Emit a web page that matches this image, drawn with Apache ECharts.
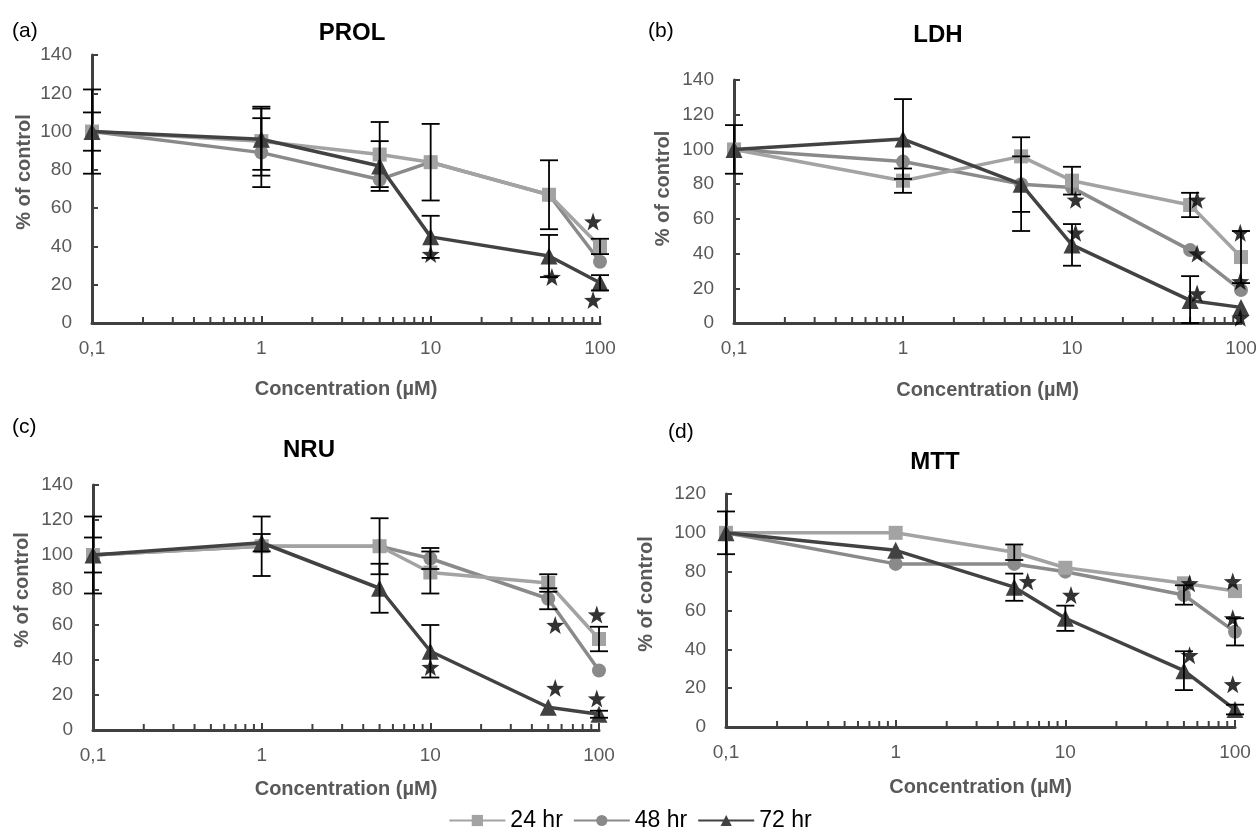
<!DOCTYPE html>
<html>
<head>
<meta charset="utf-8">
<title>PROL / LDH / NRU / MTT</title>
<script src="https://cdn.jsdelivr.net/npm/echarts@6/dist/echarts.min.js"></script>
<style>
  html, body { margin: 0; padding: 0; background: #fff; }
  #chart { width: 1260px; height: 827px; }
</style>
</head>
<body>
<div id="chart"></div>
<script>
// concentrations (µM) and minor ticks of the log axis
const conc = [0.1, 1, 5, 10, 50, 100]
const minorTicks = [0.2, 0.3, 0.4, 0.5, 0.6, 0.7, 0.8, 0.9, 2, 3, 4, 5, 6, 7, 8, 9, 20, 30, 40, 50, 60, 70, 80, 90]
const seriesNames = ['24 hr', '48 hr', '72 hr']

// (a) PROL
const prol24 = [100, 95, 88, 84, 67, 40]
const prol48 = [100, 89, 75, 84, 67, 32]
const prol72 = [100, 96, 82, 45, 35, 21]
const prolErr24 = [22, 18, 17, 20, 18, 4]
const prolErr48 = [null, 18, null, null, null, null]
const prolErr72 = [10, 16, 13, 11, 11, 4]
const prolStars = [[10, 36], [52, 24], [91, 53], [91, 12]]

// (b) LDH
const ldh24 = [100, 82, 96, 82, 68, 38]
const ldh48 = [100, 93, 80, 78, 42, 19]
const ldh72 = [100, 106, 80, 45, 13, 9]
const ldhErr24 = [14, 7, null, 8, 7, 15]
const ldhErr48 = [null, null, 27, null, null, null]
const ldhErr72 = [null, 23, 16, 12, 14, null]
const ldhStars = [[10.5, 71], [10.5, 52], [55, 71], [55, 40], [55, 17], [99, 52], [99, 24], [99, 3]]

// (c) NRU
const nru24 = [100, 105, 105, 90, 84, 52]
const nru48 = [100, 105, 105, 98, 75, 34]
const nru72 = [100, 107, 81, 45, 13, 9]
const nruErr24 = [22, 17, 16, 12, 5, 7]
const nruErr48 = [null, null, null, 6, 6, null]
const nruErr72 = [10, 5, 14, 15, null, 2]
const nruStars = [[10, 36], [55, 60], [55, 24], [97, 66], [97, 18]]

// (d) MTT
const mtt24 = [100, 100, 90, 82, 74, 70]
const mtt48 = [100, 84, 84, 80, 68, 49]
const mtt72 = [100, 91, 72, 56, 29, 9]
const mttErr24 = [11, null, 4, null, null, null]
const mttErr48 = [null, null, null, null, 5, 7]
const mttErr72 = [null, null, 7, 6.5, 10, 2.5]
const mttStars = [[6, 75], [10.8, 68], [54, 74], [54, 37], [97, 75], [97, 56], [97, 22]]

const colors = ['#a3a3a3', '#8a8a8a', '#424242']
const symbols = ['rect', 'circle', 'triangle']
const symbolSizes = [14, 14, 17]
const zOrder = [3, 2, 4]
const axisColor = '#404040'
const labelColor = '#595959'
const starPath = 'path://M0,-10L2.35,-3.24L9.51,-3.09L3.8,1.24L5.88,8.09L0,4L-5.88,8.09L-3.8,1.24L-9.51,-3.09L-2.35,-3.24Z'

const panels = [
  { tag: '(a)', title: 'PROL', values: [prol24, prol48, prol72], errs: [prolErr24, prolErr48, prolErr72], stars: prolStars,
    grid: { left: 92, top: 55, width: 508, height: 268 }, yMax: 140, xNameGap: 56, yNameGap: 58, yShift: 34,
    titlePos: [352, 33], tagPos: [12, 31] },
  { tag: '(b)', title: 'LDH', values: [ldh24, ldh48, ldh72], errs: [ldhErr24, ldhErr48, ldhErr72], stars: ldhStars,
    grid: { left: 734, top: 80, width: 507, height: 243 }, yMax: 140, xNameGap: 57, yNameGap: 61, yShift: 26,
    titlePos: [938, 35], tagPos: [648, 31] },
  { tag: '(c)', title: 'NRU', values: [nru24, nru48, nru72], errs: [nruErr24, nruErr48, nruErr72], stars: nruStars,
    grid: { left: 93, top: 485, width: 506, height: 245 }, yMax: 140, xNameGap: 49, yNameGap: 61, yShift: 35,
    titlePos: [309, 450], tagPos: [12, 427] },
  { tag: '(d)', title: 'MTT', values: [mtt24, mtt48, mtt72], errs: [mttErr24, mttErr48, mttErr72], stars: mttStars,
    grid: { left: 726, top: 494, width: 509, height: 233 }, yMax: 120, xNameGap: 50, yNameGap: 70, yShift: 33,
    titlePos: [935, 462], tagPos: [668, 432] }
]

function renderErrorBar(params, api) {
  const x = api.value(0)
  const y = api.value(1)
  const e = api.value(2)
  const hi = api.coord([x, y + e])
  const lo = api.coord([x, Math.max(y - e, 0)])
  const w = 9
  const style = { stroke: '#000', lineWidth: 1.8 }
  return {
    type: 'group',
    children: [
      { type: 'line', shape: { x1: hi[0], y1: hi[1], x2: lo[0], y2: lo[1] }, style },
      { type: 'line', shape: { x1: hi[0] - w, y1: hi[1], x2: hi[0] + w, y2: hi[1] }, style },
      { type: 'line', shape: { x1: lo[0] - w, y1: lo[1], x2: lo[0] + w, y2: lo[1] }, style }
    ]
  }
}

function renderMinorTick(params, api) {
  const p = api.coord([api.value(0), 0])
  return {
    type: 'line',
    shape: { x1: p[0], y1: p[1], x2: p[0], y2: p[1] - 6 },
    style: { stroke: axisColor, lineWidth: 2 }
  }
}

const grid = []
const xAxis = []
const yAxis = []
const series = []
const graphic = []

panels.forEach((p, i) => {
  grid.push(p.grid)
  xAxis.push({
    type: 'log', logBase: 10, min: 0.1, max: 100, gridIndex: i,
    axisLine: { lineStyle: { color: axisColor, width: 3 } },
    axisTick: { inside: true, length: 7, lineStyle: { color: axisColor, width: 2 } },
    splitLine: { show: false },
    axisLabel: { color: labelColor, fontSize: 19, margin: 16, fontFamily: 'Liberation Sans, Arial',
      formatter: v => String(v).replace('.', ',') },
    name: 'Concentration (µM)', nameLocation: 'middle', nameGap: p.xNameGap,
    nameTextStyle: { color: labelColor, fontSize: 20, fontWeight: 'bold', fontFamily: 'Liberation Sans, Arial' }
  })
  yAxis.push({
    type: 'value', min: 0, max: p.yMax, interval: 20, gridIndex: i,
    axisLine: { show: true, lineStyle: { color: axisColor, width: 3 } },
    axisTick: { show: true, inside: true, length: 6, lineStyle: { color: axisColor, width: 2 } },
    splitLine: { show: false },
    axisLabel: { color: labelColor, fontSize: 19, margin: 20, fontFamily: 'Liberation Sans, Arial' },
    name: '% of control', nameLocation: 'middle', nameGap: p.yNameGap,
    nameTextStyle: { color: labelColor, fontSize: 20, fontWeight: 'bold', fontFamily: 'Liberation Sans, Arial',
      padding: [0, 0, 0, p.yShift] }
  })

  series.push({
    type: 'custom', xAxisIndex: i, yAxisIndex: i, silent: true, z: 1,
    renderItem: renderMinorTick,
    data: minorTicks.map(v => [v, 0])
  })

  seriesNames.forEach((name, s) => {
    series.push({
      type: 'line', name: name, xAxisIndex: i, yAxisIndex: i,
      data: conc.map((c, k) => [c, p.values[s][k]]),
      symbol: symbols[s], symbolSize: symbolSizes[s],
      lineStyle: { color: colors[s], width: 3.5 },
      itemStyle: { color: colors[s] },
      z: zOrder[s]
    })
    series.push({
      type: 'custom', xAxisIndex: i, yAxisIndex: i, silent: true, z: 6,
      renderItem: renderErrorBar,
      data: conc.map((c, k) => [c, p.values[s][k], p.errs[s][k]]).filter(d => d[2] != null)
    })
  })

  series.push({
    type: 'scatter', xAxisIndex: i, yAxisIndex: i, silent: true, z: 7,
    symbol: starPath, symbolSize: 18,
    itemStyle: { color: '#000' },
    data: p.stars
  })

  graphic.push({
    type: 'text', x: p.titlePos[0], y: p.titlePos[1],
    style: { text: p.title, fill: '#000', font: 'bold 24px "Liberation Sans", Arial', align: 'center', verticalAlign: 'middle' }
  })
  graphic.push({
    type: 'text', x: p.tagPos[0], y: p.tagPos[1],
    style: { text: p.tag, fill: '#000', font: '21px "Liberation Sans", Arial', align: 'left', verticalAlign: 'middle' }
  })
})

const chart = echarts.init(document.getElementById('chart'))
chart.setOption({
  animation: false,
  backgroundColor: '#fff',
  grid: grid,
  xAxis: xAxis,
  yAxis: yAxis,
  legend: {
    data: seriesNames, left: 'center', top: 804,
    itemWidth: 56, itemHeight: 14, itemGap: 10,
    textStyle: { fontSize: 23, color: '#000', fontFamily: 'Liberation Sans, Arial' }
  },
  graphic: graphic,
  series: series
})
</script>
</body>
</html>
